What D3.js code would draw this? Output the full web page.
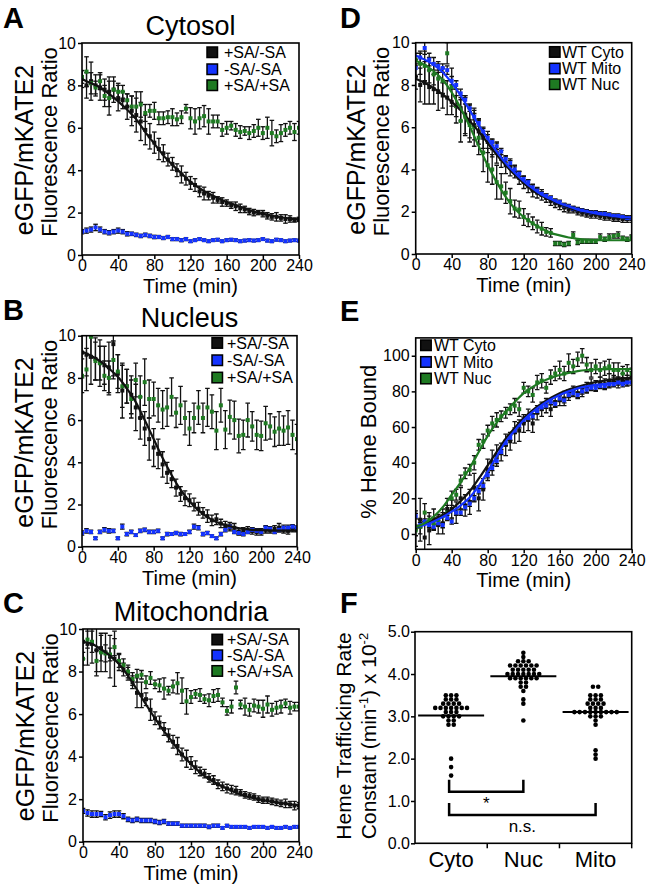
<!DOCTYPE html>
<html><head><meta charset="utf-8">
<script src="https://cdn.jsdelivr.net/npm/d3@7"></script>
<style>
body{margin:0;background:#fff}
svg{display:block}
text{font-family:"Liberation Sans",Arial,Helvetica,sans-serif;fill:#000}
</style></head>
<body><svg id="c" width="647" height="890"></svg>
<script>
// ---------- DATA ----------
const times = [0,5,10,15,20,25,30,35,40,45,50,55,60,65,70,75,80,85,90,95,100,105,110,115,120,125,130,135,140,145,150,155,160,165,170,175,180,185,190,195,200,205,210,215,220,225,230,235,240];
const fitTimes = [0,10,20,30,40,50,60,70,80,90,100,110,120,130,140,150,160,170,180,190,200,210,220,230,240];
const timeTicks = [0,40,80,120,160,200,240];
const ratioTicks = [0,2,4,6,8,10];
const hemeTicks = [0,20,40,60,80,100];
const saLabels = ["+SA/-SA","-SA/-SA","+SA/+SA"];
const wtLabels = ["WT Cyto","WT Mito","WT Nuc"];

// Panel A - Cytosol
const cytoPM = [8.3,8.0,8.2,8.0,7.9,7.8,7.7,7.8,7.4,7.3, 7.0,6.8,6.6,6.3,5.9,5.6,5.3,5.0,4.8,4.5, 4.3,4.0,3.8,3.6,3.4,3.3,3.0,2.9,2.8,2.7, 2.6,2.5,2.45,2.35,2.3,2.2,2.15,2.05,2.0,2.0, 1.95,1.85,1.8,1.8,1.75,1.7,1.7,1.65,1.68];
const cytoPMErr = [0.4,0.6,0.9,0.5,0.6,0.5,0.7,0.6,0.6,0.4, 0.6,0.7,0.8,0.9,0.7,0.6,0.5,0.5,0.4,0.3, 0.3,0.3,0.4,0.3,0.3,0.3,0.25,0.3,0.2,0.25, 0.15,0.2,0.15,0.15,0.2,0.2,0.15,0.15,0.15,0.1, 0.15,0.15,0.15,0.2,0.15,0.2,0.15,0.1,0.1];
const cytoMM = [1.1,1.15,1.2,1.3,1.2,1.1,1.05,1.1,1.15,1.1, 1.0,1.0,0.95,0.9,0.95,0.9,0.85,0.85,0.8,0.85, 0.75,0.75,0.7,0.75,0.65,0.7,0.75,0.7,0.65,0.7, 0.72,0.65,0.7,0.72,0.7,0.65,0.68,0.7,0.68,0.7, 0.75,0.68,0.65,0.72,0.7,0.65,0.68,0.7,0.68];
const cytoMMErr = [0.1,0.12,0.12,0.15,0.12,0.1,0.1,0.1,0.12,0.1, 0.1,0.08,0.08,0.08,0.08,0.08,0.08,0.07,0.07,0.07, 0.07,0.07,0.07,0.07,0.06,0.06,0.06,0.06,0.06,0.06, 0.06,0.06,0.06,0.06,0.06,0.06,0.06,0.06,0.06,0.06, 0.06,0.06,0.06,0.06,0.06,0.06,0.06,0.06,0.06];
const cytoPP = [8.4,8.65,8.1,7.9,8.2,7.5,7.4,7.8,7.7,7.7, 7.3,7.0,7.0,7.1,6.7,6.8,6.8,6.45,6.45,6.5, 6.5,6.4,6.5,6.9,6.45,6.3,6.45,6.55,6.3,6.3, 6.3,5.9,6.0,6.1,5.9,5.8,5.85,5.75,5.85,6.0, 5.75,6.0,5.75,5.6,5.75,5.9,6.0,5.8,6.0];
const cytoPPErr = [0.3,0.7,0.5,0.3,0.4,0.5,0.8,0.4,0.4,0.3, 0.3,0.5,0.7,0.6,0.4,0.3,0.4,0.3,0.3,0.3, 0.4,0.3,0.3,0.2,0.5,0.6,0.5,0.5,0.6,0.3, 0.3,0.3,0.3,0.2,0.3,0.3,0.2,0.3,0.3,0.4, 0.3,0.5,0.6,0.3,0.4,0.3,0.3,0.4,0.3];
const cytoPMFit = [8.3,8.1,7.9,7.6,7.25,6.85,6.4,5.8,5.25,4.7,4.25,3.85,3.45,3.15,2.9,2.7,2.5,2.35,2.2,2.05,1.95,1.85,1.78,1.72,1.68];

// Panel B - Nucleus
const nucPM = [9.2,9.1,9.0,8.9,8.7,8.6,8.5,9.6,8.2,7.4, 7.6,7.2,6.6,6.1,5.6,5.1,4.7,4.4,3.9,3.5, 3.2,2.8,2.5,2.3,2.2,2.0,1.8,1.6,1.45,1.25, 1.3,1.1,1.0,0.95,0.9,0.7,0.75,0.8,0.75,0.7, 0.7,0.8,0.8,0.85,0.9,0.8,0.75,0.85,0.8];
const nucPMErr = [1.2,1.0,1.3,1.0,1.1,0.9,1.2,1.5,0.9,1.3, 0.8,0.9,1.1,1.0,0.8,1.0,0.9,0.7,0.6,0.5, 0.4,0.4,0.35,0.35,0.3,0.3,0.3,0.25,0.3,0.25, 0.25,0.2,0.2,0.2,0.2,0.15,0.15,0.15,0.15,0.15, 0.15,0.15,0.15,0.15,0.2,0.15,0.15,0.15,0.1];
const nucMM = [0.65,0.75,0.7,0.4,0.7,0.8,0.75,0.75,0.4,0.95, 0.6,0.7,0.55,0.75,0.8,0.7,0.7,0.75,0.4,0.6, 0.6,0.65,0.6,0.6,0.7,0.95,0.9,0.6,0.65,0.5, 0.4,0.6,0.8,0.95,0.7,0.65,0.6,0.7,0.8,0.75, 0.7,0.9,0.85,0.7,0.8,0.9,0.9,0.95,0.9];
const nucMMErr = [0.1,0.1,0.08,0.06,0.08,0.1,0.1,0.08,0.06,0.12, 0.08,0.08,0.06,0.08,0.08,0.08,0.08,0.08,0.06,0.08, 0.06,0.08,0.08,0.06,0.08,0.12,0.1,0.08,0.08,0.06, 0.06,0.08,0.1,0.12,0.08,0.08,0.08,0.08,0.1,0.08, 0.08,0.1,0.1,0.08,0.1,0.12,0.12,0.1,0.08];
const nucPP = [8.1,8.4,9.95,8.8,8.7,8.1,8.0,8.85,8.3,7.6, 7.6,7.0,7.9,7.1,7.8,7.0,7.0,6.7,6.5,6.6, 7.1,6.35,6.7,6.1,5.6,6.1,6.6,6.1,6.6,6.4, 5.5,6.7,5.55,6.15,6.0,5.25,5.3,6.0,5.7,5.3, 5.25,5.85,5.7,5.45,5.6,5.5,5.65,5.3,5.1];
const nucPPErr = [0.8,1.0,1.0,0.9,0.8,0.7,0.8,0.9,0.8,1.0, 0.8,0.9,0.8,1.0,1.1,0.9,0.8,0.8,0.9,0.9, 0.9,0.7,0.9,0.8,0.8,0.7,0.8,0.7,0.9,0.8, 0.9,0.8,0.9,0.8,0.9,0.8,0.7,0.8,0.7,0.7, 0.7,0.8,0.6,0.7,0.8,0.7,0.8,0.7,0.7];
const nucPMFit = [9.25,9.05,8.8,8.45,8.05,7.5,6.85,6.0,5.1,4.2,3.4,2.7,2.15,1.72,1.4,1.17,1.02,0.92,0.85,0.8,0.78,0.77,0.76,0.76,0.76];

// Panel C - Mitochondria
const mitoPM = [9.4,9.3,9.3,9.0,9.1,8.9,8.7,8.6,8.45,8.1, 7.9,7.5,7.0,6.9,6.7,6.2,5.8,5.6,5.3,5.0, 4.7,4.5,4.1,3.9,3.7,3.5,3.3,3.2,3.0,2.9, 2.7,2.6,2.5,2.45,2.4,2.3,2.2,2.15,2.1,2.0, 1.95,1.95,1.9,1.85,1.8,1.8,1.75,1.7,1.7];
const mitoPMErr = [0.8,1.0,0.9,1.2,0.6,0.9,1.0,1.3,0.4,0.3, 0.3,0.3,0.7,0.6,0.3,0.5,0.3,0.3,0.3,0.3, 0.3,0.4,0.3,0.4,0.3,0.3,0.2,0.2,0.2,0.2, 0.2,0.2,0.2,0.2,0.2,0.15,0.15,0.15,0.15,0.15, 0.15,0.15,0.15,0.15,0.15,0.2,0.15,0.2,0.15];
const mitoMM = [1.45,1.35,1.3,1.3,1.3,1.15,1.25,1.3,1.3,1.2, 1.05,1.0,1.05,1.0,1.0,1.0,0.95,0.9,0.95,0.85, 0.85,0.85,0.75,0.75,0.75,0.75,0.75,0.75,0.7,0.75, 0.75,0.65,0.75,0.7,0.7,0.7,0.7,0.65,0.7,0.7, 0.7,0.65,0.7,0.65,0.65,0.7,0.65,0.7,0.7];
const mitoMMErr = [0.12,0.15,0.15,0.15,0.12,0.12,0.15,0.15,0.15,0.12, 0.1,0.1,0.1,0.1,0.1,0.1,0.1,0.1,0.1,0.08, 0.08,0.08,0.08,0.08,0.08,0.08,0.08,0.08,0.08,0.08, 0.08,0.06,0.06,0.06,0.06,0.06,0.06,0.06,0.06,0.06, 0.06,0.06,0.06,0.06,0.06,0.06,0.06,0.06,0.06];
const mitoPP = [8.6,9.5,9.4,8.5,8.9,8.85,8.8,9.15,8.5,8.3, 8.0,7.65,7.8,7.85,7.5,7.7,7.4,7.35,7.2,7.1, 7.3,7.45,7.1,6.6,6.8,6.95,6.9,6.7,6.65,6.85, 6.9,6.55,6.15,6.35,7.25,6.45,6.35,6.2,6.4,6.35, 6.25,6.45,6.2,6.3,6.35,6.5,6.3,6.35,6.35];
const mitoPPErr = [0.3,0.4,0.5,0.5,0.9,0.4,0.3,0.4,0.3,0.3, 0.3,0.3,0.3,0.2,0.3,0.3,0.2,0.3,0.5,0.2, 0.3,0.5,0.6,0.6,0.3,0.2,0.3,0.2,0.3,0.3, 0.3,0.2,0.2,0.3,0.3,0.2,0.4,0.3,0.3,0.3, 0.4,0.4,0.3,0.3,0.3,0.2,0.3,0.2,0.2];
const mitoPMFit = [9.4,9.3,9.05,8.75,8.35,7.8,7.15,6.45,5.8,5.2,4.65,4.1,3.65,3.25,2.95,2.7,2.5,2.3,2.15,2.05,1.95,1.88,1.82,1.76,1.72];

// Panel D - WT ratio
const wtCyto = [8.4,8.0,8.1,7.9,7.8,7.7,7.5,7.4,7.2,7.0, 6.9,6.6,6.3,6.1,5.8,5.5,5.3,5.0,4.8,4.5, 4.2,4.1,3.9,3.6,3.4,3.2,3.0,2.9,2.8,2.65, 2.5,2.4,2.3,2.2,2.1,2.1,2.0,1.95,1.9,1.85, 1.85,1.8,1.75,1.75,1.7,1.7,1.65,1.65,1.65];
const wtCytoErr = [0.6,0.8,1.0,0.8,0.7,0.9,0.6,0.8,0.6,0.5, 0.6,0.9,0.8,0.7,0.6,0.5,0.5,0.4,0.5,0.4, 0.4,0.4,0.3,0.3,0.3,0.3,0.3,0.25,0.25,0.2, 0.2,0.2,0.2,0.2,0.15,0.15,0.15,0.15,0.15,0.15, 0.15,0.15,0.15,0.15,0.15,0.15,0.15,0.15,0.15];
const wtMito = [8.8,9.3,9.75,9.2,9.0,8.9,8.8,8.7,8.2,8.0, 7.6,7.3,6.9,6.5,6.2,5.8,5.5,5.3,5.1,4.85, 4.5,4.3,4.0,3.8,3.55,3.4,3.15,3.0,2.85,2.75, 2.65,2.5,2.45,2.3,2.25,2.15,2.1,2.05,2.0,1.95, 1.95,1.9,1.9,1.85,1.8,1.8,1.75,1.7,1.7];
const wtMitoErr = [0.4,0.3,0.3,0.3,0.3,0.2,0.2,0.2,0.2,0.2, 0.2,0.2,0.15,0.15,0.15,0.15,0.15,0.15,0.15,0.15, 0.15,0.12,0.12,0.12,0.12,0.12,0.12,0.1,0.1,0.1, 0.1,0.1,0.1,0.1,0.1,0.1,0.1,0.1,0.1,0.1, 0.1,0.1,0.1,0.1,0.1,0.1,0.1,0.1,0.1];
const wtNuc = [9.2,9.0,8.9,8.7,8.5,8.3,8.2,9.5,7.9,7.0, 6.3,6.5,6.1,6.0,5.5,4.8,4.2,4.0,3.4,3.2, 2.9,2.5,2.15,2.1,1.75,1.6,1.45,1.3,1.2,1.05, 1.0,0.5,0.5,0.45,0.5,0.9,0.55,0.6,0.6,0.6, 0.6,0.8,0.7,0.8,0.85,0.9,0.75,0.7,0.8];
const wtNucErr = [0.3,0.5,0.7,0.6,0.5,0.7,0.6,0.5,0.9,0.8, 1.0,0.9,0.8,0.9,0.8,0.9,0.8,0.7,0.8,0.6, 0.5,0.6,0.4,0.4,0.4,0.3,0.3,0.3,0.3,0.2, 0.2,0.1,0.1,0.1,0.1,0.15,0.1,0.1,0.1,0.1, 0.1,0.15,0.1,0.15,0.1,0.15,0.1,0.1,0.1];
const wtCytoFit = [8.3,8.1,7.85,7.55,7.2,6.8,6.3,5.8,5.25,4.7,4.2,3.75,3.35,3.0,2.75,2.55,2.35,2.2,2.05,1.95,1.88,1.82,1.77,1.73,1.7];
const wtMitoFit = [9.4,9.2,8.95,8.6,8.1,7.5,6.8,6.1,5.45,4.85,4.3,3.85,3.45,3.1,2.8,2.6,2.4,2.25,2.1,2.0,1.92,1.85,1.8,1.75,1.72];
const wtNucFit = [9.15,8.95,8.65,8.25,7.65,6.9,6.05,5.1,4.2,3.4,2.7,2.15,1.75,1.45,1.2,1.0,0.88,0.78,0.72,0.68,0.66,0.65,0.65,0.65,0.65];

// Panel E - % heme bound
const hbCyto = [3,8,-2,2,8,5,6,14,14,12, 20,16,18,26,20,25,36,40,44,46, 50,52,57,58,62,64,62,68,70,72, 70,74,75,76,78,80,79,80,82,84, 83,85,84,86,86,85,87,86,88];
const hbCytoErr = [10,12,9,8,6,5,6,6,5,6, 6,6,7,8,7,6,6,7,6,5, 6,5,6,6,5,6,5,4,4,4, 4,3,3,4,3,3,3,3,3,3, 3,3,3,4,3,3,3,3,3];
const hbMito = [10,5,7,5,4,6,5,9,7,12, 12,15,17,20,24,27,33,37,41,46, 51,54,58,61,64,65,66,69,71,72, 74,73,76,75,78,79,78,80,81,82, 82,83,83,84,84,85,84,85,85];
const hbMitoErr = [1.5,1.5,1.5,1.5,1.5,1.5,1.5,1.5,1.5,1.5, 1.5,1.5,1.5,1.5,1.5,1.5,1.5,1.5,1.5,1.5, 1.5,1.5,1.5,1.5,1.5,1.5,1.5,1.5,1.5,1.5, 1.5,1.5,1.5,1.5,1.5,1.5,1.5,1.5,1.5,1.5, 1.5,1.5,1.5,1.5,1.5,1.5,1.5,1.5,1.5];
const hbNuc = [2,4,12,8,6,8,10,12,20,22, 30,34,36,40,50,52,58,62,64,66, 68,70,72,70,82,80,78,85,86,82, 88,90,92,90,96,94,98,100,95,92, 94,92,93,94,92,92,90,92,90];
const hbNucErr = [3,4,5,4,3,3,4,4,4,3, 3,3,3,4,3,4,3,4,4,3, 3,3,4,4,3,3,4,4,4,3, 4,4,5,4,5,4,4,4,4,4, 4,4,4,4,4,4,4,3,3];
const hbCytoFit = [3.5,5.5,8,10.5,14,18.5,24,31,38.5,46,53.5,59.5,65,69.5,73.3,76.3,79,81,82.6,84,85.2,86,86.7,87.3,87.7];
const hbMitoFit = [4,5,7,9.5,12.5,16,20.5,27,35,43.5,51.8,58,63.9,68.5,72.3,75.4,78,80,81.7,82.8,83.6,84.1,84.5,84.8,85];
const hbNucFit = [4,6,9.7,15,22,29,37,46,55,62.5,68.6,74,79,82.5,85.4,87.5,89.2,90.4,91.4,92,92.3,92.5,92.5,92.5,92.5];

// Panel F - rate constants
const rateCats = ["Cyto","Nuc","Mito"];
const rateTicks = [0,1,2,3,4,5];
const rateCyto = [3.5,3.5,3.5,3.4,3.4,3.4,3.3,3.3,3.3,3.3,3.2,3.2,3.2,3.2,3.2,3.2,3.2,3.1,3.1,3.1,3.0,3.0,3.0,3.0,2.9,2.9,2.8,2.8,2.0,1.8,1.6];
const rateNuc = [4.5,4.4,4.3,4.3,4.3,4.2,4.2,4.2,4.2,4.2,4.2,4.1,4.1,4.1,4.1,4.1,4.0,4.0,4.0,4.0,4.0,4.0,4.0,3.9,3.9,3.9,3.9,3.9,3.9,3.8,3.8,3.7,3.7,3.6,3.4,3.3,2.9];
const rateMito = [3.7,3.7,3.5,3.5,3.5,3.4,3.4,3.4,3.3,3.3,3.3,3.3,3.2,3.2,3.2,3.1,3.1,3.1,3.1,3.1,3.1,3.1,3.1,3.1,3.0,3.0,3.0,2.9,2.8,2.2,2.1,2.0];
const rateMedians = [3.02,3.95,3.1];
const rateComparisons = [
  {from:"Cyto", to:"Nuc", level:1.22, leg:1.5, label:"*"},
  {from:"Cyto", to:"Mito", level:0.67, leg:0.95, label:"n.s."}
];

// ---------- DRAWING ----------
const COL = {black:"#111111", blue:"#1433ff", green:"#1e7a22"};
const svg = d3.select("#c");
const FONT = '"Liberation Sans",Arial,Helvetica,sans-serif';

function txt(g, s, x, y, size, opts={}) {
  const t = g.append("text").attr("x", x).attr("y", y).attr("font-size", size)
    .attr("text-anchor", opts.anchor || "start").text(s);
  if (opts.bold) t.attr("font-weight", "bold");
  return t;
}
function rotTxt(g, s, x, y, size) {
  return g.append("text").attr("transform", `translate(${x},${y}) rotate(-90)`)
    .attr("text-anchor","middle").attr("font-size", size).text(s);
}

function timePanel(p) {
  const g = svg.append("g");
  const x = d3.scaleLinear().domain([0,240]).range([p.x0, p.x1]);
  const y = d3.scaleLinear().domain(p.yDomain).range([p.yBottom, p.yTop]);
  const cid = "clip" + p.id;
  svg.append("defs").append("clipPath").attr("id", cid).append("rect")
    .attr("x", p.x0).attr("y", p.yTop).attr("width", p.x1 - p.x0).attr("height", p.yBottom - p.yTop);
  const plot = g.append("g").attr("clip-path", `url(#${cid})`);
  p.series.forEach(s => {
    const eg = plot.append("g").attr("stroke", "#111").attr("stroke-width", 1.3).attr("fill","none");
    s.v.forEach((v, i) => {
      const e = s.e[i], cx = x(times[i]);
      const y1 = y(v + e), y2 = y(v - e);
      eg.append("line").attr("x1", cx).attr("x2", cx).attr("y1", y1).attr("y2", y2);
      eg.append("line").attr("x1", cx - 2.3).attr("x2", cx + 2.3).attr("y1", y1).attr("y2", y1);
      eg.append("line").attr("x1", cx - 2.3).attr("x2", cx + 2.3).attr("y1", y2).attr("y2", y2);
    });
  });
  p.series.forEach(s => {
    plot.append("g").selectAll("rect").data(s.v).join("rect")
      .attr("x", (d,i) => x(times[i]) - 2).attr("y", d => y(d) - 2)
      .attr("width", 4).attr("height", 4).attr("fill", COL[s.c]);
  });
  const line = d3.line().x((d,i) => x(fitTimes[i])).y(d => y(d)).curve(d3.curveMonotoneX);
  p.fits.forEach(f => {
    plot.append("path").attr("d", line(f.v)).attr("fill","none")
      .attr("stroke", COL[f.c]).attr("stroke-width", 2.2);
  });
  const ay = g.append("g").attr("transform", `translate(${p.x0},0)`)
    .call(d3.axisLeft(y).tickValues(p.yTicks).tickSize(4).tickPadding(2).tickSizeOuter(0));
  const ax = g.append("g").attr("transform", `translate(0,${p.yBottom})`)
    .call(d3.axisBottom(x).tickValues(timeTicks).tickSize(4).tickPadding(1).tickSizeOuter(0));
  [ay, ax].forEach(a => {
    a.select(".domain").remove();
    a.selectAll(".tick line").attr("stroke","#000").attr("stroke-width",1.5);
    a.selectAll("text").attr("font-family", FONT).attr("fill","#000");
  });
  ay.selectAll("text").attr("font-size", 16);
  ax.selectAll("text").attr("font-size", 16);
  g.append("rect").attr("x", p.x0).attr("y", p.yTop).attr("width", p.x1 - p.x0)
    .attr("height", p.yBottom - p.yTop).attr("fill","none").attr("stroke","#000").attr("stroke-width",1.6);
  txt(g, p.id, p.letter[0], p.letter[1], 29, {bold:true});
  if (p.title) txt(g, p.title, (p.x0 + p.x1)/2, p.titleY, 27, {anchor:"middle"});
  txt(g, "Time (min)", (p.x0 + p.x1)/2, p.yBottom + 38, 20, {anchor:"middle"});
  p.ylab.forEach(l => rotTxt(g, l.t, l.x, l.y, l.s));
  p.legend.labels.forEach((lab, i) => {
    const cy = p.legend.rows[i];
    g.append("rect").attr("x", p.legend.sx).attr("y", cy - 5).attr("width", 10.5).attr("height", 10.5)
      .attr("fill", COL[p.legend.colors[i]]).attr("stroke","#000").attr("stroke-width",1.5);
    txt(g, lab, p.legend.tx, cy + 5.8, 16);
  });
}

const ratioLab = (x1, x2, yc) => [{t:"eGFP/mKATE2", x:x1, y:yc+4, s:25},{t:"Fluorescence Ratio", x:x2, y:yc-4, s:22}];
const saColors = ["black","blue","green"];

timePanel({id:"A", x0:82, x1:299, yTop:43, yBottom:255, yDomain:[0,10], yTicks:ratioTicks,
  letter:[3,28], title:"Cytosol", titleY:35, ylab:ratioLab(33,57,146),
  series:[{v:cytoPM,e:cytoPMErr,c:"black"},{v:cytoMM,e:cytoMMErr,c:"blue"},{v:cytoPP,e:cytoPPErr,c:"green"}],
  fits:[{v:cytoPMFit,c:"black"}],
  legend:{labels:saLabels, colors:saColors, sx:207, tx:224, rows:[52,69,85]}});

timePanel({id:"B", x0:82, x1:297, yTop:335.7, yBottom:546.7, yDomain:[0,10], yTicks:ratioTicks,
  letter:[3,320], title:"Nucleus", titleY:327, ylab:ratioLab(33,57,438.5),
  series:[{v:nucPM,e:nucPMErr,c:"black"},{v:nucMM,e:nucMMErr,c:"blue"},{v:nucPP,e:nucPPErr,c:"green"}],
  fits:[{v:nucPMFit,c:"black"}],
  legend:{labels:saLabels, colors:saColors, sx:212, tx:227, rows:[342.7,360,377.3]}});

timePanel({id:"C", x0:83, x1:299, yTop:629, yBottom:841.7, yDomain:[0,10], yTicks:ratioTicks,
  letter:[3,613], title:"Mitochondria", titleY:620.7, ylab:ratioLab(34,58,732),
  series:[{v:mitoPM,e:mitoPMErr,c:"black"},{v:mitoMM,e:mitoMMErr,c:"blue"},{v:mitoPP,e:mitoPPErr,c:"green"}],
  fits:[{v:mitoPMFit,c:"black"}],
  legend:{labels:saLabels, colors:saColors, sx:212, tx:227, rows:[639.3,655,670.7]}});

timePanel({id:"D", x0:415.7, x1:631.7, yTop:42.7, yBottom:254, yDomain:[0,10], yTicks:ratioTicks,
  letter:[340,28], title:null, ylab:ratioLab(365,389,145.5),
  series:[{v:wtCyto,e:wtCytoErr,c:"black"},{v:wtMito,e:wtMitoErr,c:"blue"},{v:wtNuc,e:wtNucErr,c:"green"}],
  fits:[{v:wtCytoFit,c:"black"},{v:wtMitoFit,c:"blue"},{v:wtNucFit,c:"green"}],
  legend:{labels:wtLabels, colors:saColors, sx:549.5, tx:562, rows:[51.7,68.3,84]}});

timePanel({id:"E", x0:415.7, x1:631.7, yTop:337.9, yBottom:549.3, yDomain:[-8.6,110], yTicks:hemeTicks,
  letter:[340,320.7], title:null, ylab:[{t:"% Heme Bound", x:376, y:441.7, s:22}],
  series:[{v:hbCyto,e:hbCytoErr,c:"black"},{v:hbMito,e:hbMitoErr,c:"blue"},{v:hbNuc,e:hbNucErr,c:"green"}],
  fits:[{v:hbCytoFit,c:"black"},{v:hbMitoFit,c:"blue"},{v:hbNucFit,c:"green"}],
  legend:{labels:wtLabels, colors:saColors, sx:420.7, tx:434, rows:[345,361.7,378.3]}});

// Panel F
(function(){
  const g = svg.append("g");
  const x0 = 415, x1 = 631.7, yT = 631.7, yB = 843.3;
  const x = d3.scaleBand().domain(rateCats).range([x0, x1]);
  const y = d3.scaleLinear().domain([0,5]).range([yB, yT]);
  const sets = [rateCyto, rateNuc, rateMito];
  sets.forEach((vals, ci) => {
    const cx = x(rateCats[ci]) + x.bandwidth()/2;
    const groups = d3.group(vals, v => v);
    groups.forEach((arr, v) => {
      const n = arr.length;
      arr.forEach((d, k) => {
        g.append("circle").attr("cx", cx + (k - (n-1)/2) * 5.3).attr("cy", y(v)).attr("r", 2.3).attr("fill","#000");
      });
    });
    g.append("line").attr("x1", cx - 33).attr("x2", cx + 33).attr("y1", y(rateMedians[ci])).attr("y2", y(rateMedians[ci]))
      .attr("stroke","#000").attr("stroke-width", 2);
  });
  rateComparisons.forEach(c => {
    const xa = x(c.from) + x.bandwidth()/2 - 2, xb = x(c.to) + x.bandwidth()/2;
    g.append("path").attr("d", `M${xa},${y(c.leg)}V${y(c.level)}H${xb}V${y(c.leg)}`)
      .attr("fill","none").attr("stroke","#000").attr("stroke-width", 2.5);
    txt(g, c.label, (xa+xb)/2, y(c.level) + 17.5, 17, {anchor:"middle"});
  });
  const ay = g.append("g").attr("transform", `translate(${x0},0)`)
    .call(d3.axisLeft(y).tickValues(rateTicks).tickFormat(d3.format(".1f")).tickSize(4).tickPadding(1).tickSizeOuter(0));
  ay.select(".domain").remove();
  ay.selectAll(".tick line").attr("stroke","#000").attr("stroke-width",1.5);
  ay.selectAll("text").attr("font-family", FONT).attr("font-size", 16).attr("fill","#000");
  rateCats.forEach(c => {
    const bx = x(c) + x.bandwidth();
    g.append("line").attr("x1", bx).attr("x2", bx).attr("y1", yB).attr("y2", yB + 5).attr("stroke","#000").attr("stroke-width",1.5);
    txt(g, c, x(c) + x.bandwidth()/2, yB + 23.4, 22, {anchor:"middle"});
  });
  g.append("rect").attr("x", x0).attr("y", yT).attr("width", x1 - x0).attr("height", yB - yT)
    .attr("fill","none").attr("stroke","#000").attr("stroke-width",1.6);
  txt(g, "F", 340, 613, 29, {bold:true});
  rotTxt(g, "Heme Trafficking Rate", 351, 736, 21);
  const t2 = g.append("text").attr("transform", "translate(376,736) rotate(-90)").attr("text-anchor","middle").attr("font-size",21);
  t2.append("tspan").text("Constant (min");
  t2.append("tspan").attr("dy",-8).attr("font-size",13).text("-1");
  t2.append("tspan").attr("dy",8).text(") x 10");
  t2.append("tspan").attr("dy",-8).attr("font-size",13).text("-2");
})();
</script></body></html>
